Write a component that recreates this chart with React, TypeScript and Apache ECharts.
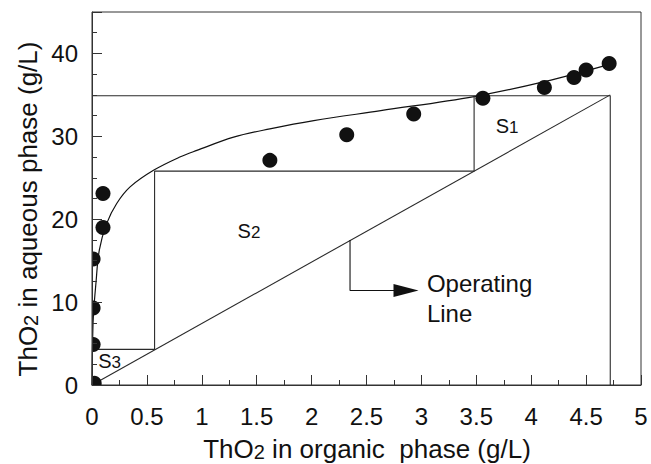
import React, { useEffect, useRef } from "react";
import * as echarts from "echarts";

// Equilibrium data points (organic phase, aqueous phase), g/L
const dotX = [0.02, 0.01, 0.01, 0.01, 0.1, 0.1, 1.62, 2.32, 2.93, 3.56, 4.12, 4.39, 4.5, 4.71];
const dotY = [0.2, 4.9, 9.3, 15.2, 19.0, 23.1, 27.1, 30.2, 32.7, 34.6, 35.9, 37.1, 38.0, 38.8];

// Fitted equilibrium curve
const curveX = [0, 0.004, 0.012, 0.036, 0.067, 0.134, 0.225, 0.347, 0.56, 0.8, 0.955, 1.29, 1.62, 2.02, 2.63, 3.48, 4.12, 4.77];
const curveY = [0, 4, 8.2, 12.3, 16.3, 19.5, 21.9, 23.9, 25.9, 27.5, 28.3, 29.9, 30.9, 31.9, 33.1, 34.8, 36.6, 38.9];

// Operating line
const operatingX = [0, 4.72];
const operatingY = [0, 35];

// Feed lines (top horizontal and right vertical)
const feedX = [0, 4.72, 4.72];
const feedY = [34.9, 34.9, 0];

// Stage staircase
const stepX = [3.48, 3.48, 0.57, 0.57, 0];
const stepY = [34.9, 25.8, 25.8, 4.3, 4.3];

// Annotation pointer
const pointerX = [2.35, 2.35, 2.86];
const pointerY = [17.5, 11.4, 11.4];

// Stage labels
const stageNames = ["S1", "S2", "S3"];
const stageX = [3.78, 1.43, 0.16];
const stageY = [31.2, 18.5, 2.8];

// Note text
const noteLines = ["Operating", "Line"];
const noteX = [3.05, 3.05];
const noteY = [12.27, 8.65];

const FONT = "'Liberation Sans', Arial, Helvetica, sans-serif";
const INK = "#111";
const LINE = "#2a2a2a";

export default function App() {
  const ref = useRef<HTMLDivElement>(null);

  useEffect(() => {
    if (!ref.current) return;
    const chart = echarts.init(ref.current, null, { renderer: "svg" });

    const pair = (xs: number[], ys: number[]) => xs.map((x, i) => [x, ys[i]]);

    const titleRich = {
      a: { fontSize: 26, fontFamily: FONT, fill: INK, lineHeight: 33, verticalAlign: "bottom" },
      b: { fontSize: 20, fontFamily: FONT, fill: INK, lineHeight: 20, verticalAlign: "bottom" },
    };

    const option: any = {
      animation: false,
      backgroundColor: "#fff",
      grid: {
        left: 92,
        right: 10,
        top: 12,
        bottom: 79,
        show: true,
        borderColor: "#333",
        borderWidth: 1,
        backgroundColor: "transparent",
      },
      xAxis: {
        type: "value",
        min: 0,
        max: 5,
        interval: 0.5,
        z: 10,
        axisLine: { show: true, lineStyle: { color: "#333", width: 1 } },
        axisTick: { show: true, inside: true, length: 10, lineStyle: { color: "#333", width: 1 } },
        minorTick: { show: true, splitNumber: 2, length: 5, lineStyle: { color: "#333", width: 1 } },
        axisLabel: { fontSize: 24, color: INK, fontFamily: FONT, margin: 19 },
        splitLine: { show: false },
        minorSplitLine: { show: false },
      },
      yAxis: [
        {
          type: "value",
          min: 0,
          max: 45,
          interval: 10,
          position: "left",
          z: 10,
          axisLine: { show: true, lineStyle: { color: "#333", width: 1 } },
          axisTick: { show: true, inside: true, length: 10, lineStyle: { color: "#333", width: 1 } },
          axisLabel: {
            fontSize: 24,
            color: INK,
            fontFamily: FONT,
            margin: 14,
            formatter: (v: number) => (v % 10 === 0 ? String(v) : ""),
          },
          splitLine: { show: false },
        },
        {
          type: "value",
          min: 0,
          max: 45,
          interval: 2.5,
          position: "left",
          offset: 0,
          z: 10,
          axisLine: { show: false },
          axisTick: { show: true, inside: true, length: 5, lineStyle: { color: "#333", width: 1 } },
          axisLabel: { show: false },
          splitLine: { show: false },
        },
      ],
      series: [
        {
          type: "line",
          data: pair(curveX, curveY),
          smooth: 0.35,
          symbol: "none",
          lineStyle: { color: "#111", width: 1.2 },
          z: 3,
        },
        {
          type: "line",
          data: pair(operatingX, operatingY),
          symbol: "none",
          lineStyle: { color: LINE, width: 1.1 },
          z: 3,
        },
        {
          type: "line",
          data: pair(feedX, feedY),
          symbol: "none",
          lineStyle: { color: LINE, width: 1.1 },
          z: 3,
        },
        {
          type: "line",
          data: pair(stepX, stepY),
          symbol: "none",
          lineStyle: { color: LINE, width: 1.1 },
          z: 3,
        },
        {
          type: "line",
          data: pointerX.map((x, i) =>
            i === pointerX.length - 1
              ? { value: [x, pointerY[i]], symbol: "triangle", symbolSize: [13, 25], symbolRotate: -90 }
              : { value: [x, pointerY[i]], symbol: "none" }
          ),
          symbol: "none",
          showSymbol: true,
          itemStyle: { color: "#111" },
          lineStyle: { color: "#111", width: 1.1 },
          z: 4,
        },
        {
          type: "custom",
          clip: true,
          encode: { x: 0, y: 1 },
          data: pair(dotX, dotY),
          renderItem: (params: any, api: any) => {
            const p = api.coord([api.value(0), api.value(1)]);
            return {
              type: "circle",
              shape: { cx: p[0], cy: p[1], r: 7.5 },
              style: { fill: "#111" },
            };
          },
          z: 5,
        },
      ],
      graphic: [
        {
          id: "xtitle",
          type: "text",
          x: 367,
          y: 445,
          z: 20,
          style: {
            text: "{a|ThO}{b|2}{a| in organic  phase (g/L)}",
            align: "center",
            verticalAlign: "middle",
            fill: INK,
            rich: titleRich,
          },
        },
        {
          id: "ytitle",
          type: "text",
          x: 24,
          y: 209,
          rotation: Math.PI / 2,
          z: 20,
          style: {
            text: "{a|ThO}{b|2}{a| in aqueous phase (g/L)}",
            align: "center",
            verticalAlign: "middle",
            fill: INK,
            rich: titleRich,
          },
        },
      ],
    };

    chart.setOption(option);

    // Place annotation texts at data positions through the axes' scales
    const extra: any[] = [];
    stageNames.forEach((n, i) => {
      const p = chart.convertToPixel({ gridIndex: 0 }, [stageX[i], stageY[i]]) as number[];
      extra.push({
        id: "stage" + i,
        type: "text",
        x: p[0],
        y: p[1],
        z: 20,
        style: {
          text: `{s|${n.slice(0, 1)}}{d|${n.slice(1)}}`,
          align: "center",
          verticalAlign: "middle",
          fill: INK,
          rich: {
            s: { fontSize: 20, fontFamily: FONT, fill: INK, lineHeight: 19, verticalAlign: "bottom" },
            d: { fontSize: 17, fontFamily: FONT, fill: INK, lineHeight: 17, verticalAlign: "bottom" },
          },
        },
      });
    });
    noteLines.forEach((n, i) => {
      const p = chart.convertToPixel({ gridIndex: 0 }, [noteX[i], noteY[i]]) as number[];
      extra.push({
        id: "note" + i,
        type: "text",
        x: p[0],
        y: p[1],
        z: 20,
        style: {
          text: n,
          align: "left",
          verticalAlign: "middle",
          fill: INK,
          fontSize: 24,
          fontFamily: FONT,
        },
      });
    });
    chart.setOption({ graphic: extra });

    return () => chart.dispose();
  }, []);

  return (
    <div
      ref={ref}
      style={{ position: "fixed", left: 0, top: 0, width: 651, height: 464, background: "#fff" }}
    />
  );
}
